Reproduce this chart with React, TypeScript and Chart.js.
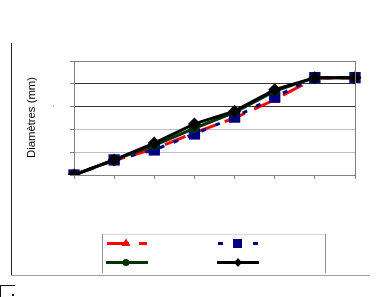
import React, { useEffect, useRef } from "react";
import { Chart, registerables } from "chart.js";

Chart.register(...registerables);

const categories = ["", "", "", "", "", "", "", ""];
const seriesRed = [0, 0.64, 1.15, 1.85, 2.5, 3.3, 4.25, 4.25];
const seriesBlue = [0, 0.66, 1.1, 1.8, 2.54, 3.42, 4.27, 4.27];
const seriesGreen = [0, 0.66, 1.3, 2.05, 2.75, 3.68, 4.27, 4.27];
const seriesBlack = [0, 0.66, 1.4, 2.24, 2.8, 3.74, 4.27, 4.27];
const yTitle = "Diamètres (mm)";
const yMin = 0;
const yMax = 5;

const RED = "#ff0000";
const BLUE = "#000080";
const GREEN = "#003300";
const BLACK = "#000000";

const framePlugin = {
  id: "framePlugin",
  afterDraw(chart: any) {
    const ctx = chart.ctx as CanvasRenderingContext2D;
    const a = chart.chartArea;
    ctx.save();
    // right border of plot area
    ctx.strokeStyle = "#808080";
    ctx.lineWidth = 1;
    ctx.beginPath();
    ctx.moveTo(Math.round(a.right) + 0.5, a.top);
    ctx.lineTo(Math.round(a.right) + 0.5, a.bottom + 4);
    ctx.stroke();

    // outer frame: left and bottom
    ctx.strokeStyle = "#222";
    ctx.beginPath();
    ctx.moveTo(11.5, 43);
    ctx.lineTo(11.5, 276);
    ctx.stroke();
    ctx.strokeStyle = "#a0a0a0";
    ctx.beginPath();
    ctx.moveTo(11, 275.5);
    ctx.lineTo(370, 275.5);
    ctx.stroke();

    // fragment bottom-left
    ctx.strokeStyle = "#111";
    ctx.beginPath();
    ctx.moveTo(0, 285.5);
    ctx.lineTo(15, 285.5);
    ctx.moveTo(0.5, 285);
    ctx.lineTo(0.5, 297);
    ctx.stroke();
    ctx.fillStyle = "#111";
    ctx.fillRect(12, 294, 2, 2);

    // small grey dot
    ctx.fillStyle = "#bbb";
    ctx.fillRect(53, 105, 1, 2);

    // y title
    ctx.fillStyle = "#000";
    ctx.font = "11.3px 'Liberation Sans', Arial, sans-serif";
    ctx.textAlign = "center";
    ctx.textBaseline = "middle";
    ctx.translate(32, 117.5);
    ctx.rotate(-Math.PI / 2);
    ctx.fillText(yTitle, 0, 0);
    ctx.setTransform(1, 0, 0, 1, 0, 0);

    // legend box
    ctx.strokeStyle = "#d8d8d8";
    ctx.beginPath();
    ctx.moveTo(102, 234.5);
    ctx.lineTo(326, 234.5);
    ctx.stroke();
    ctx.strokeStyle = "#909090";
    ctx.beginPath();
    ctx.moveTo(102.5, 234);
    ctx.lineTo(102.5, 273);
    ctx.moveTo(325.5, 234);
    ctx.lineTo(325.5, 273);
    ctx.stroke();

    const line = (x0: number, x1: number, y: number, color: string, dash: number[]) => {
      ctx.strokeStyle = color;
      ctx.lineWidth = 3;
      ctx.setLineDash(dash);
      ctx.beginPath();
      ctx.moveTo(x0, y);
      ctx.lineTo(x1, y);
      ctx.stroke();
      ctx.setLineDash([]);
    };
    // red
    line(107, 147, 243.5, RED, [22, 10]);
    ctx.fillStyle = RED;
    ctx.beginPath();
    ctx.moveTo(126, 238.5);
    ctx.lineTo(130.5, 246);
    ctx.lineTo(121.5, 246);
    ctx.closePath();
    ctx.fill();
    // blue
    line(218, 258, 243.5, BLUE, [5, 12.5]);
    ctx.fillStyle = BLUE;
    ctx.fillRect(233, 239, 9, 9);
    // green
    line(106, 148, 262.5, GREEN, []);
    ctx.fillStyle = GREEN;
    ctx.beginPath();
    ctx.arc(126, 262.5, 3.5, 0, Math.PI * 2);
    ctx.fill();
    // black
    line(217, 259, 262.5, BLACK, []);
    ctx.fillStyle = BLACK;
    ctx.beginPath();
    ctx.moveTo(238, 258);
    ctx.lineTo(242, 262.5);
    ctx.lineTo(238, 267);
    ctx.lineTo(234, 262.5);
    ctx.closePath();
    ctx.fill();
    ctx.restore();
  },
};

export default function App() {
  const ref = useRef<HTMLCanvasElement | null>(null);
  useEffect(() => {
    if (!ref.current) return;
    const chart = new Chart(ref.current, {
      type: "line",
      data: {
        labels: categories,
        datasets: [
          {
            label: "",
            data: seriesRed,
            borderColor: RED,
            backgroundColor: RED,
            borderWidth: 3,
            borderDash: [22, 10],
            pointStyle: "triangle",
            pointRadius: 6.5,
            pointBorderWidth: 0,
            order: 4,
          },
          {
            label: "",
            data: seriesBlue,
            borderColor: BLUE,
            backgroundColor: BLUE,
            borderWidth: 3,
            borderDash: [5, 10],
            pointStyle: "rect",
            pointRadius: 8,
            pointBorderWidth: 0,
            order: 3,
          },
          {
            label: "",
            data: seriesGreen,
            borderColor: GREEN,
            backgroundColor: GREEN,
            borderWidth: 3,
            pointStyle: "circle",
            pointRadius: 5,
            pointBorderWidth: 0,
            order: 2,
          },
          {
            label: "",
            data: seriesBlack,
            borderColor: BLACK,
            backgroundColor: BLACK,
            borderWidth: 3,
            pointStyle: "rectRot",
            pointRadius: 6.5,
            pointBorderWidth: 0,
            order: 1,
          },
        ],
      },
      options: {
        responsive: false,
        animation: false,
        devicePixelRatio: 1,
        layout: { padding: { top: 61, right: 37, left: 0, bottom: 0 } },
        plugins: { legend: { display: false }, tooltip: { enabled: false } },
        scales: {
          x: {
            type: "category",
            offset: false,
            ticks: { display: false },
            grid: {
              offset: false,
              drawOnChartArea: false,
              drawTicks: true,
              tickLength: 4,
              tickColor: "#808080",
            },
            border: { color: "#808080", width: 1 },
            afterFit: (s: any) => {
              s.height = 122;
            },
          },
          y: {
            min: yMin,
            max: yMax,
            ticks: { display: false, stepSize: 1 },
            grid: {
              drawTicks: true,
              tickLength: 4,
              tickColor: "#808080",
              color: (c: any) => {
                const v = c.tick ? c.tick.value : 0;
                if (v === 3 || v === 4) return "#333333";
                if (v === 5 || v === 0) return "#808080";
                return "#bdbdbd";
              },
            },
            border: { color: "#808080", width: 1 },
            afterFit: (s: any) => {
              s.width = 74;
            },
          },
        },
      },
      plugins: [framePlugin],
    } as any);
    return () => chart.destroy();
  }, []);
  return (
    <div style={{ position: "fixed", left: 0, top: 0, width: 392, height: 297, background: "#fff" }}>
      <canvas ref={ref} width={392} height={297} style={{ display: "block", width: 392, height: 297 }} />
    </div>
  );
}
